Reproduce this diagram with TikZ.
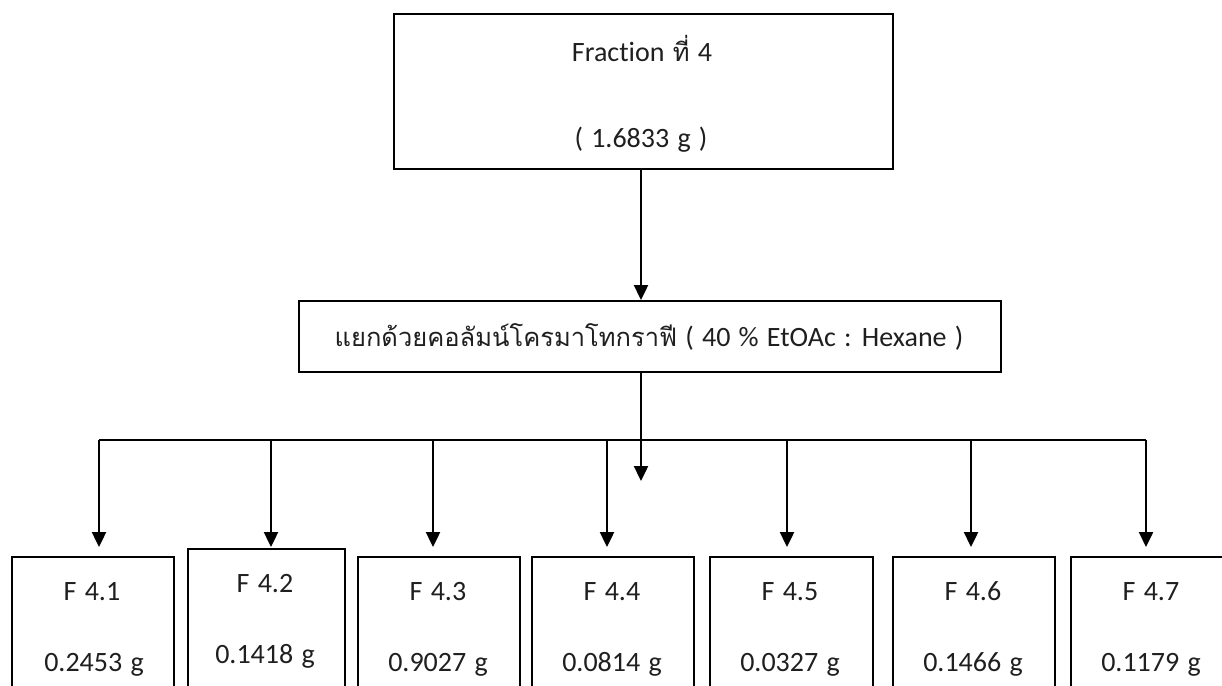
\documentclass[tikz,border=0pt]{standalone}
\usepackage{fontspec}
\setmainfont[Ligatures=NoCommon, WordSpace=1.3]{Carlito}
\newfontfamily\thaifont[Script=Thai]{Loma}
\newcommand{\thaitext}[1]{{\thaifont\fontsize{25.5}{29}\selectfont #1}}
\usetikzlibrary{arrows.meta}

\begin{document}
\begin{tikzpicture}[x=1pt,y=-1pt,
  txt/.style={font=\fontsize{28}{32}\selectfont, text=black!88, inner sep=0pt, anchor=base},
  topbox/.style={draw, line width=2pt, minimum width=499pt, minimum height=155pt, anchor=north west, inner sep=0pt},
  midbox/.style={draw, line width=1.6pt, minimum width=702pt, minimum height=71pt, anchor=north west, inner sep=0pt},
  fracbox/.style={draw, line width=1.5pt, minimum width=#1, minimum height=170pt, anchor=north west, inner sep=0pt},
  flow/.style={line width=2.4pt, -{Triangle[width=14pt,length=15pt]}},
  bar/.style={line width=1.6pt}
]
\useasboundingbox (0,0) rectangle (1222,685);
\clip (0,0) rectangle (1222,685);

% starting fraction
\node[topbox] (top) at (393,13) {};
\node[txt] (topname) at (642,62) {Fraction \thaitext{ที่} 4};
\node[txt] (topmass) at (641,147) {( 1.6833 g )};

% column chromatography step
\node[midbox] (mid) at (298,300) {};
\node[txt] (midtext) at (649,346) {\thaitext{แยกด้วยคอลัมน์โครมาโทกราฟี} ( 40 \% EtOAc : Hexane )};

\coordinate (a0) at (641,168);
\draw[flow] (a0) -- (a0 |- mid.north);

% sub-fractions
\node[fracbox=162pt] (f1) at (11,556) {};
\node[fracbox=157pt] (f2) at (187,548) {};
\node[fracbox=162pt] (f3) at (357,556) {};
\node[fracbox=162pt] (f4) at (531,556) {};
\node[fracbox=163pt] (f5) at (709,556) {};
\node[fracbox=162pt] (f6) at (892,556) {};
\node[fracbox=162pt] (f7) at (1070,556) {};

\node[txt] (n1) at (92,600) {F 4.1};   \node[txt] (m1) at (94,671) {0.2453 g};
\node[txt] (n2) at (265,592) {F 4.2};  \node[txt] (m2) at (265,663) {0.1418 g};
\node[txt] (n3) at (438,600) {F 4.3};  \node[txt] (m3) at (438,671) {0.9027 g};
\node[txt] (n4) at (612,600) {F 4.4};  \node[txt] (m4) at (612,671) {0.0814 g};
\node[txt] (n5) at (790,600) {F 4.5};  \node[txt] (m5) at (790,671) {0.0327 g};
\node[txt] (n6) at (973,600) {F 4.6};  \node[txt] (m6) at (973,671) {0.1466 g};
\node[txt] (n7) at (1151,600) {F 4.7}; \node[txt] (m7) at (1151,671) {0.1179 g};

% distribution bar
\coordinate (j1) at (99,440);
\coordinate (j2) at (271,440);
\coordinate (j3) at (433,440);
\coordinate (j4) at (607,440);
\coordinate (j5) at (787,440);
\coordinate (j6) at (971,440);
\coordinate (j7) at (1146,440);
\draw[bar] (j1) -- (j7);

\coordinate (b0) at (641,371);
\coordinate (c0) at (641,481);
\draw[flow] (b0) -- (c0);

\foreach \i in {1,3,4,5,6,7}
  \draw[flow, shorten >=9pt] (j\i) -- (j\i |- f\i.north);
\draw[flow, shorten >=1pt] (j2) -- (j2 |- f2.north);
\end{tikzpicture}
\end{document}
